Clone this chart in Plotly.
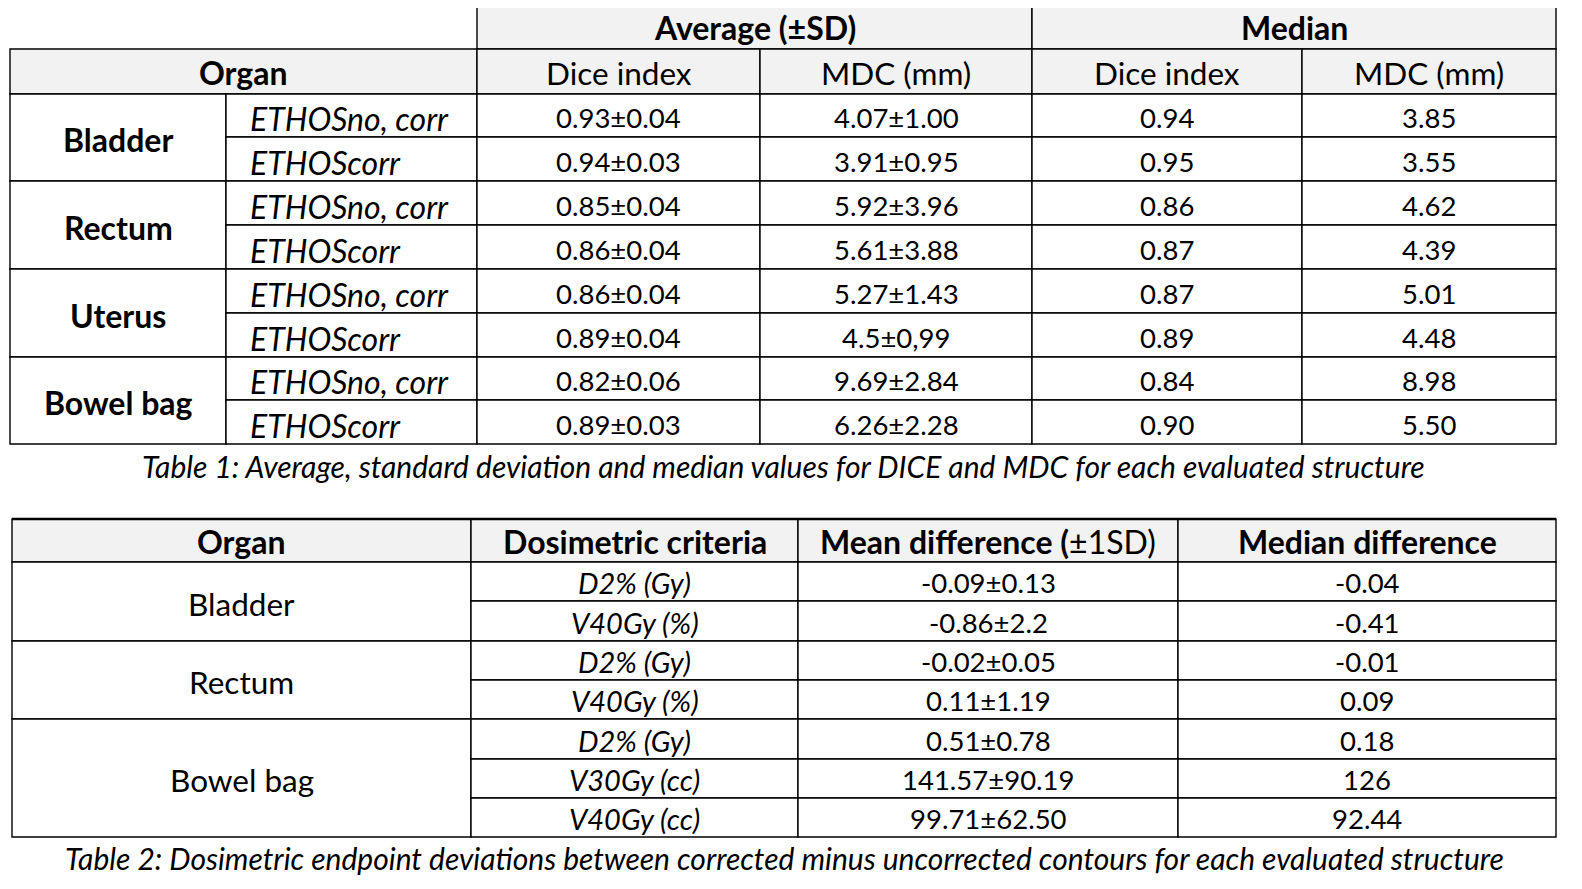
import plotly.graph_objects as go

# ---- Table 1: DICE / MDC per structure
organs_t1 = ["Bladder", "Rectum", "Uterus", "Bowel bag"]
methods_t1 = ["ETHOSno, corr", "ETHOScorr"]
avg_dice = ["0.93±0.04", "0.94±0.03", "0.85±0.04", "0.86±0.04",
            "0.86±0.04", "0.89±0.04", "0.82±0.06", "0.89±0.03"]
avg_mdc = ["4.07±1.00", "3.91±0.95", "5.92±3.96", "5.61±3.88",
           "5.27±1.43", "4.5±0,99", "9.69±2.84", "6.26±2.28"]
med_dice = ["0.94", "0.95", "0.86", "0.87", "0.87", "0.89", "0.84", "0.90"]
med_mdc = ["3.85", "3.55", "4.62", "4.39", "5.01", "4.48", "8.98", "5.50"]
t1_groups = ["Average (±SD)", "Median"]
t1_metrics = ["Dice index", "MDC (mm)"]

# ---- Table 2: dosimetric deviations
organs_t2 = ["Bladder", "Rectum", "Bowel bag"]
rows_per_organ_t2 = [2, 2, 3]
criteria_t2 = ["D2% (Gy)", "V40Gy (%)", "D2% (Gy)", "V40Gy (%)",
               "D2% (Gy)", "V30Gy (cc)", "V40Gy (cc)"]
mean_diff = ["-0.09±0.13", "-0.86±2.2", "-0.02±0.05", "0.11±1.19",
             "0.51±0.78", "141.57±90.19", "99.71±62.50"]
median_diff = ["-0.04", "-0.41", "-0.01", "0.09", "0.18", "126", "92.44"]
t2_headers = ["<b>Organ</b>", "<b>Dosimetric criteria</b>",
              "<b>Mean difference (</b>±1SD)", "<b>Median difference</b>"]

caption_t1 = ("Table 1: Average, standard deviation and median values "
              "for DICE and MDC for each evaluated structure")
caption_t2 = ("Table 2: Dosimetric endpoint deviations between corrected minus "
              "uncorrected contours for each evaluated structure")

# grid of the page (pixels in the 1582x889 window)
T1_X = [10, 226, 477, 760, 1032, 1302, 1556]
T1_Y = [6, 49, 94, 137, 181, 225, 269, 313, 357, 400, 444]
T2_X = [12, 471, 798, 1178, 1556]
T2_Y = [519, 562, 601, 641, 680, 719, 759, 798, 837]

FONT = "Lato, Open Sans, sans-serif"
HEAD_FILL = "#f2f2f2"
# font sizes: Lato is tuned per kind of text to get Calibri-like widths
S_NUM, S_TEXT, S_BOLD, S_METHOD, S_CRIT, S_CAPTION = 27.5, 31.5, 32, 32, 29, 30
PAGE_W, PAGE_H, BODY_MARGIN = 1582, 889, 8

fig = go.Figure()


def cell(xs, ys, c0, c1, r0, r1, text, size, fill="white", border=True,
         align="center", dy=2):
    if border:
        fig.add_shape(type="rect", xref="x", yref="y",
                      x0=xs[c0], x1=xs[c1], y0=ys[r0], y1=ys[r1],
                      line=dict(color="black", width=1.4),
                      fillcolor=fill, layer="below")
    if not text:
        return
    yc = (ys[r0] + ys[r1]) / 2 + dy
    if align == "left":
        x, anchor = xs[c0] + 22, "left"
    else:
        x, anchor = (xs[c0] + xs[c1]) / 2, "center"
    fig.add_annotation(x=x, y=yc, xref="x", yref="y", text=text,
                       showarrow=False, xanchor=anchor, yanchor="middle",
                       font=dict(family=FONT, size=size, color="black"))


# table 1 header
for g, name in enumerate(t1_groups):
    cell(T1_X, T1_Y, 2 + 2 * g, 4 + 2 * g, 0, 1, f"<b>{name}</b>", S_BOLD,
         fill=HEAD_FILL, dy=0)
cell(T1_X, T1_Y, 0, 2, 1, 2, "<b>Organ</b>", S_BOLD, fill=HEAD_FILL, dy=1)
for g in range(len(t1_groups)):
    for m, name in enumerate(t1_metrics):
        c = 2 + 2 * g + m
        cell(T1_X, T1_Y, c, c + 1, 1, 2, name, S_TEXT, fill=HEAD_FILL, dy=1)

# table 1 body
for i, organ in enumerate(organs_t1):
    r = 2 + 2 * i
    cell(T1_X, T1_Y, 0, 1, r, r + 2, f"<b>{organ}</b>", S_BOLD)
    for j, method in enumerate(methods_t1):
        k = 2 * i + j
        rr = r + j
        cell(T1_X, T1_Y, 1, 2, rr, rr + 1, f"<i>{method}</i>", S_METHOD,
             align="left", dy=3)
        for c, vals in enumerate([avg_dice, avg_mdc, med_dice, med_mdc]):
            cell(T1_X, T1_Y, 2 + c, 3 + c, rr, rr + 1, vals[k], S_NUM)

# table 2 header
for c, name in enumerate(t2_headers):
    cell(T2_X, T2_Y, c, c + 1, 0, 1, name, S_BOLD, fill=HEAD_FILL, dy=1)

# table 2 body
r = 1
k = 0
for organ, n in zip(organs_t2, rows_per_organ_t2):
    cell(T2_X, T2_Y, 0, 1, r, r + n, organ, S_TEXT)
    for j in range(n):
        rr = r + j
        cell(T2_X, T2_Y, 1, 2, rr, rr + 1, f"<i>{criteria_t2[k]}</i>", S_CRIT, dy=1)
        cell(T2_X, T2_Y, 2, 3, rr, rr + 1, mean_diff[k], S_NUM, dy=1)
        cell(T2_X, T2_Y, 3, 4, rr, rr + 1, median_diff[k], S_NUM, dy=1)
        k += 1
    r += n

# heavier top rule of table 2
fig.add_shape(type="line", xref="x", yref="y", x0=T2_X[0], x1=T2_X[-1],
              y0=T2_Y[0], y1=T2_Y[0], line=dict(color="black", width=2.5))

# captions
fig.add_annotation(x=(T1_X[0] + T1_X[-1]) / 2, y=T1_Y[-1] + 22, xref="x", yref="y",
                   text=f"<i>{caption_t1}</i>", showarrow=False,
                   font=dict(family=FONT, size=S_CAPTION, color="black"))
fig.add_annotation(x=(T2_X[0] + T2_X[-1]) / 2, y=T2_Y[-1] + 21, xref="x", yref="y",
                   text=f"<i>{caption_t2}</i>", showarrow=False,
                   font=dict(family=FONT, size=S_CAPTION, color="black"))

# the figure sits inside the default 8px body margin; axes map to window pixels
fig_w = PAGE_W - 2 * BODY_MARGIN
fig_h = PAGE_H - 2 * BODY_MARGIN
fig.update_xaxes(range=[BODY_MARGIN, PAGE_W - BODY_MARGIN], visible=False, fixedrange=True)
fig.update_yaxes(range=[PAGE_H - BODY_MARGIN, BODY_MARGIN], visible=False, fixedrange=True)
fig.update_layout(width=fig_w, height=fig_h, margin=dict(l=0, r=0, t=0, b=0),
                  paper_bgcolor="white", plot_bgcolor="white", showlegend=False)

fig.write_html("out.html", config={"displayModeBar": False})
